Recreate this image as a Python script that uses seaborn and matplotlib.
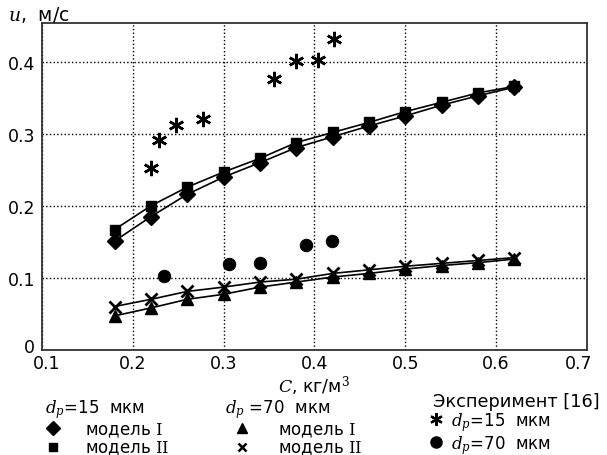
import matplotlib
matplotlib.use("Agg")
import matplotlib.pyplot as plt
import matplotlib.transforms as mtrans
from matplotlib.lines import Line2D
from matplotlib.ticker import FuncFormatter
import pandas as pd
import seaborn as sns

# концентрация частиц C, кг/м3
conc = [0.18, 0.22, 0.26, 0.30, 0.34, 0.38, 0.42, 0.46, 0.50, 0.54, 0.58, 0.62]

# расчёт, d_p = 15 мкм
u15_m1 = [0.151, 0.185, 0.216, 0.240, 0.260, 0.281, 0.296, 0.311, 0.325, 0.340, 0.353, 0.365]
u15_m2 = [0.167, 0.200, 0.226, 0.247, 0.266, 0.288, 0.302, 0.316, 0.331, 0.344, 0.357, 0.366]
# расчёт, d_p = 70 мкм
u70_m1 = [0.047, 0.058, 0.070, 0.077, 0.087, 0.094, 0.101, 0.106, 0.112, 0.117, 0.121, 0.126]
u70_m2 = [0.060, 0.070, 0.081, 0.087, 0.094, 0.098, 0.106, 0.111, 0.116, 0.120, 0.124, 0.128]

# эксперимент [16]
exp15_c = [0.220, 0.229, 0.248, 0.277, 0.356, 0.380, 0.404, 0.422]
exp15_u = [0.252, 0.292, 0.312, 0.321, 0.377, 0.401, 0.403, 0.432]
exp70_c = [0.234, 0.306, 0.340, 0.391, 0.419]
exp70_u = [0.102, 0.119, 0.121, 0.146, 0.151]

xticks = [0.1, 0.2, 0.3, 0.4, 0.5, 0.6, 0.7]
yticks = [0.0, 0.1, 0.2, 0.3, 0.4]

sns.set_style("white")
plt.rcParams['font.family'] = ['DejaVu Sans']
plt.rcParams['mathtext.fontset'] = 'dejavuserif'
plt.rcParams['text.color'] = 'black'
plt.rcParams['xtick.color'] = 'black'
plt.rcParams['ytick.color'] = 'black'
plt.rcParams['axes.labelcolor'] = 'black'

fig = plt.figure(figsize=(6.07, 4.56), dpi=100)
ax = fig.add_axes([0.069, 0.231, 0.898, 0.716])

STAR = (6, 2, 0)

# модельные кривые
models = [
    (u15_m1, 'D', 8, 1.0),
    (u15_m2, 's', 7.5, 1.0),
    (u70_m1, '^', 9, 1.0),
    (u70_m2, 'x', 8, 2.0),
]
for vals, mk, ms, mew in models:
    df = pd.DataFrame({'C': conc, 'u': vals})
    sns.lineplot(data=df, x='C', y='u', ax=ax, color='black', linewidth=1.2,
                 marker=mk, markersize=ms, markeredgewidth=mew,
                 markeredgecolor='black', markerfacecolor='black')

# эксперимент
ax.plot(exp15_c, exp15_u, linestyle='none', marker=STAR, markersize=11,
        markeredgewidth=1.8, color='black')
sns.scatterplot(x=exp70_c, y=exp70_u, ax=ax, color='black', s=80,
                edgecolor='black', marker='o')

ax.set_xlim(0.1, 0.7)
ax.set_ylim(0, 0.454)
ax.set_xticks(xticks)
ax.set_yticks(yticks)
ax.yaxis.set_major_formatter(FuncFormatter(lambda v, p: '0' if abs(v) < 1e-9 else f'{v:.1f}'))
ax.xaxis.set_major_formatter(FuncFormatter(lambda v, p: f'{v:.1f}'))
ax.tick_params(axis='both', length=0, labelsize=12.5)
ax.tick_params(axis='x', pad=3)
ax.tick_params(axis='y', pad=5)
ax.grid(True, linestyle=':', color='black', linewidth=1.0)
for s in ax.spines.values():
    s.set_color('#333333')
    s.set_linewidth(1.3)

# сдвиг крайних подписей, как в оригинале
fig.canvas.draw()
xl = ax.get_xticklabels()
xl[0].set_transform(xl[0].get_transform() + mtrans.ScaledTranslation(5 / 100, 0, fig.dpi_scale_trans))
xl[-1].set_transform(xl[-1].get_transform() + mtrans.ScaledTranslation(-8 / 100, 0, fig.dpi_scale_trans))
yl = ax.get_yticklabels()
yl[0].set_transform(yl[0].get_transform() + mtrans.ScaledTranslation(0, 5 / 100, fig.dpi_scale_trans))

ax.set_xlabel('$C$, кг/м$^3$', fontsize=12.5, labelpad=1)
ax.set_ylabel('')
fig.text(8 / 607, 1 - 15 / 456, '$u$,  м/с', fontsize=13.5, ha='left', va='center')

# легенды
def h(mk, ms, mew=1.0):
    return Line2D([], [], linestyle='none', marker=mk, markersize=ms,
                  markeredgewidth=mew, color='black')

common = dict(frameon=False, loc='upper left', fontsize=12, title_fontsize=12,
              borderpad=0, borderaxespad=0, labelspacing=0.0,
              alignment='left')

leg1 = fig.legend([h('D', 7), h('s', 6)], ['модель $\\mathrm{I}$', 'модель $\\mathrm{II}$'],
                  title='$d_p$=15  мкм', bbox_to_anchor=(45 / 607, 1 - 398 / 456),
                  handlelength=0.9, handletextpad=1.5, **common)
leg2 = fig.legend([h('^', 7.5), h('x', 6, 1.8)], ['модель $\\mathrm{I}$', 'модель $\\mathrm{II}$'],
                  title='$d_p$ =70  мкм', bbox_to_anchor=(225 / 607, 1 - 398 / 456),
                  handlelength=2.0, handletextpad=1.2, **common)
leg3 = fig.legend([h(STAR, 9, 1.6), h('o', 8)], ['$d_p$=15  мкм', '$d_p$=70  мкм'],
                  title='Эксперимент [16]', bbox_to_anchor=(433 / 607, 1 - 393 / 456),
                  handlelength=0.4, handletextpad=0.7, **common)
leg3.get_title().set_fontsize(12.8)

fig.savefig('out.png', dpi=100)
